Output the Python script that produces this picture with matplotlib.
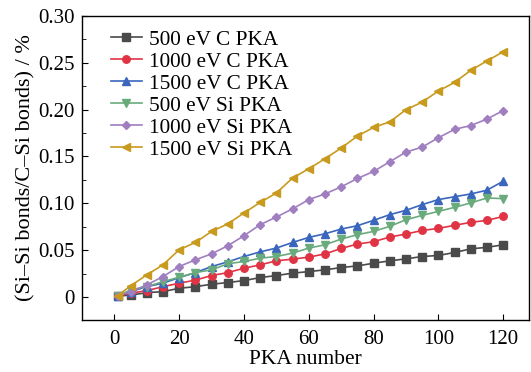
import matplotlib

matplotlib.use("Agg")
import matplotlib.pyplot as plt
from matplotlib.ticker import MultipleLocator, FuncFormatter

plt.rcParams["font.family"] = ["Liberation Serif", "DejaVu Serif"]

pka = [1, 5, 10, 15, 20, 25, 30, 35, 40, 45, 50, 55, 60, 65, 70, 75, 80, 85, 90, 95, 100, 105, 110, 115, 120]

c500 = [0.001, 0.002, 0.0046, 0.0057, 0.0093, 0.011, 0.0136, 0.0154, 0.0175, 0.0207, 0.0229, 0.0254, 0.0271,
        0.029, 0.0314, 0.0332, 0.036, 0.0386, 0.0407, 0.0432, 0.0443, 0.0475, 0.0514, 0.053, 0.0557]
c1000 = [0.001, 0.004, 0.0068, 0.011, 0.0147, 0.018, 0.0229, 0.026, 0.0307, 0.0343, 0.0386, 0.0404, 0.0425,
         0.046, 0.0518, 0.0565, 0.059, 0.064, 0.0672, 0.071, 0.0732, 0.0765, 0.0797, 0.0818, 0.086]
c1500 = [0.001, 0.0057, 0.011, 0.0147, 0.0207, 0.026, 0.0325, 0.0375, 0.0432, 0.0482, 0.0522, 0.0582, 0.0636,
         0.0675, 0.0725, 0.0761, 0.0818, 0.0879, 0.0925, 0.0986, 0.104, 0.107, 0.110, 0.114, 0.1236]
si500 = [0.001, 0.0075, 0.011, 0.0164, 0.0211, 0.026, 0.029, 0.0354, 0.0379, 0.0414, 0.0432, 0.0468, 0.0522,
         0.0557, 0.0618, 0.0665, 0.070, 0.0754, 0.0825, 0.0871, 0.0914, 0.0957, 0.1004, 0.1057, 0.105]
si1000 = [0.001, 0.0057, 0.0129, 0.0218, 0.0325, 0.0397, 0.046, 0.0547, 0.0654, 0.0772, 0.0854, 0.094, 0.104,
          0.110, 0.1176, 0.1265, 0.134, 0.1444, 0.1547, 0.160, 0.170, 0.179, 0.183, 0.190, 0.199]
si1500 = [0.0015, 0.0118, 0.0236, 0.0343, 0.0504, 0.0582, 0.070, 0.078, 0.0897, 0.101, 0.111, 0.127, 0.1369,
          0.1476, 0.159, 0.1718, 0.181, 0.187, 0.200, 0.208, 0.220, 0.229, 0.242, 0.252, 0.2618]

series = [
    (c500, "500 eV C PKA", "#4a4a4a", "s"),
    (c1000, "1000 eV C PKA", "#e03445", "o"),
    (c1500, "1500 eV C PKA", "#3a66bd", "^"),
    (si500, "500 eV Si PKA", "#6aab7c", "v"),
    (si1000, "1000 eV Si PKA", "#a07fc0", "D"),
    (si1500, "1500 eV Si PKA", "#c89a1e", "<"),
]

fig = plt.figure(figsize=(5.31, 3.72), dpi=100)
ax = fig.add_axes([0.1544, 0.140, 0.842, 0.817])

for values, label, color, marker in series:
    ms = 4.4 if marker == "D" else 5.4
    ax.plot(pka, values, color=color, marker=marker, markersize=ms, linewidth=1.2, label=label)

ax.set_xlim(-10, 128)
ax.set_ylim(-0.0245, 0.30)
ax.xaxis.set_major_locator(MultipleLocator(20))
ax.yaxis.set_major_locator(MultipleLocator(0.05))
ax.yaxis.set_minor_locator(MultipleLocator(0.025))
ax.yaxis.set_major_formatter(FuncFormatter(lambda v, _: "0" if abs(v) < 1e-9 else f"{v:.2f}"))
ax.tick_params(which="both", direction="in", labelsize=15, top=False, right=False)
ax.tick_params(which="major", length=4, pad=5)
ax.tick_params(axis="x", which="major", pad=7)
ax.tick_params(which="minor", length=3)
for sp in ax.spines.values():
    sp.set_linewidth(1.0)

ax.set_xlabel("PKA number", fontsize=15.5, labelpad=1)
ax.set_ylabel("(Si\u2013Si bonds/C\u2013Si bonds) / %", fontsize=16, labelpad=2)

ax.legend(loc="upper left", frameon=False, fontsize=15.3, handlelength=1.45, handletextpad=0.35,
          labelspacing=0.1, borderaxespad=0.0, borderpad=0.0, bbox_to_anchor=(0.065, 0.955))

fig.savefig("out.png", dpi=100)
